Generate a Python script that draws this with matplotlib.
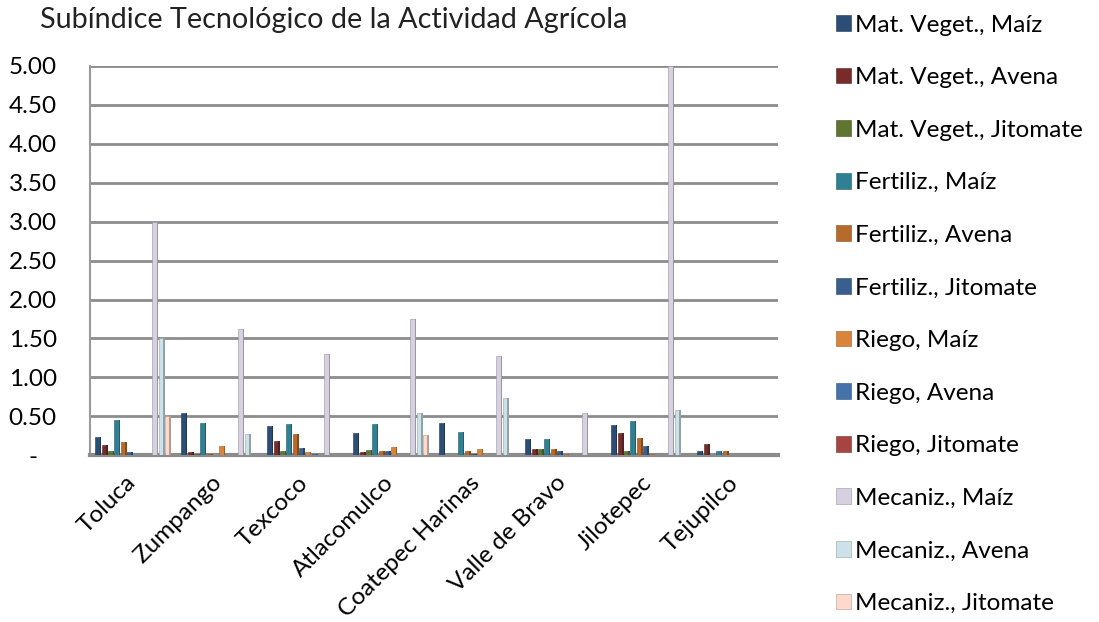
import numpy as np
import matplotlib.pyplot as plt
from matplotlib.colors import to_rgb
from matplotlib.transforms import ScaledTranslation

plt.rcParams['font.family'] = ['Lato', 'DejaVu Sans']

municipios = ["Toluca", "Zumpango", "Texcoco", "Atlacomulco", "Coatepec Harinas",
              "Valle de Bravo", "Jilotepec", "Tejupilco"]

series_names = ["Mat. Veget., Maíz", "Mat. Veget., Avena", "Mat. Veget., Jitomate",
                "Fertiliz., Maíz", "Fertiliz., Avena", "Fertiliz., Jitomate",
                "Riego, Maíz", "Riego, Avena", "Riego, Jitomate",
                "Mecaniz., Maíz", "Mecaniz., Avena", "Mecaniz., Jitomate"]

mat_veget_maiz = [0.24, 0.54, 0.37, 0.28, 0.42, 0.21, 0.39, 0.06]
mat_veget_avena = [0.13, 0.04, 0.18, 0.04, 0.01, 0.08, 0.28, 0.15]
mat_veget_jitomate = [0.05, 0.02, 0.05, 0.07, 0.01, 0.08, 0.06, 0.01]
fertiliz_maiz = [0.45, 0.41, 0.40, 0.40, 0.30, 0.21, 0.44, 0.06]
fertiliz_avena = [0.17, 0.02, 0.27, 0.06, 0.06, 0.08, 0.22, 0.06]
fertiliz_jitomate = [0.04, 0.01, 0.09, 0.06, 0.02, 0.05, 0.12, 0.01]
riego_maiz = [0.01, 0.12, 0.04, 0.11, 0.08, 0.02, 0.02, 0.01]
riego_avena = [0.01, 0.01, 0.02, 0.01, 0.01, 0.01, 0.01, 0.01]
riego_jitomate = [0.01, 0.01, 0.01, 0.01, 0.01, 0.01, 0.01, 0.01]
mecaniz_maiz = [3.00, 1.62, 1.30, 1.75, 1.27, 0.54, 5.00, 0.00]
mecaniz_avena = [1.50, 0.27, 0.00, 0.54, 0.73, 0.00, 0.58, 0.00]
mecaniz_jitomate = [0.50, 0.01, 0.00, 0.26, 0.00, 0.00, 0.00, 0.00]

all_series = [mat_veget_maiz, mat_veget_avena, mat_veget_jitomate,
              fertiliz_maiz, fertiliz_avena, fertiliz_jitomate,
              riego_maiz, riego_avena, riego_jitomate,
              mecaniz_maiz, mecaniz_avena, mecaniz_jitomate]

colors = ["#2C4D75", "#772C2A", "#5F7530", "#2E8092", "#B66A2C", "#3A5F8E",
          "#D9843A", "#4672AA", "#A64442", "#D6D0E1", "#CDE1E8", "#FCD9CC"]

y_ticks = [0, 0.5, 1, 1.5, 2, 2.5, 3, 3.5, 4, 4.5, 5]
y_tick_labels = ["-   ", "0.50", "1.00", "1.50", "2.00", "2.50", "3.00",
                 "3.50", "4.00", "4.50", "5.00"]

fig = plt.figure(figsize=(10.99, 6.22), dpi=100)
ax = fig.add_axes([0.082, 0.268, 0.626, 0.626])

x = np.arange(len(municipios))
pitch = 0.0735
front_w = pitch * 0.72
side_w = pitch * 0.24

for j, (vals, col) in enumerate(zip(all_series, colors)):
    pos = x + (j - 5.5) * pitch
    dark = tuple(c * 0.72 for c in to_rgb(col))
    ax.bar(pos - side_w / 2, vals, width=front_w, color=col, edgecolor=dark,
           linewidth=0.4, label=series_names[j], zorder=3)
    ax.bar(pos + front_w / 2, vals, width=side_w, color=dark, linewidth=0,
           zorder=3)

ax.set_xlim(-0.5, len(municipios) - 0.5)
ax.set_ylim(0, 5)
ax.set_yticks(y_ticks)
ax.set_yticklabels(y_tick_labels, fontsize=17.5)
ax.set_xticks(x)
ax.set_xticklabels(municipios, rotation=45, ha="right", va="top", fontsize=17.5)
ax.tick_params(axis="both", length=0)
ax.tick_params(axis="y", pad=24)
ax.tick_params(axis="x", pad=12)

# nudge the slanted names a little to the right, as in the original
shift = ScaledTranslation(7 / 100, 0, fig.dpi_scale_trans)
for lbl in ax.get_xticklabels():
    lbl.set_transform(lbl.get_transform() + shift)

ax.yaxis.grid(True, color="#8C8C8C", linewidth=2)
ax.set_axisbelow(True)
for side in ["top", "right"]:
    ax.spines[side].set_visible(False)
ax.spines["left"].set_color("#9A9A9A")
ax.spines["left"].set_linewidth(1.5)
ax.spines["bottom"].set_color("#8C8C8C")
ax.spines["bottom"].set_linewidth(3)

fig.text(0.036, 0.968, "Subíndice Tecnológico de la Actividad Agrícola",
         fontsize=20.7, color="#222222", va="center", ha="left")

handles, labels = ax.get_legend_handles_labels()
fig.legend(handles, labels, loc="upper left", bbox_to_anchor=(0.745, 1.004),
           frameon=False, fontsize=17.5, handlelength=0.62, handleheight=0.62,
           handletextpad=0.18, labelspacing=1.3, borderpad=0.2)

fig.savefig("out.png", dpi=100)
